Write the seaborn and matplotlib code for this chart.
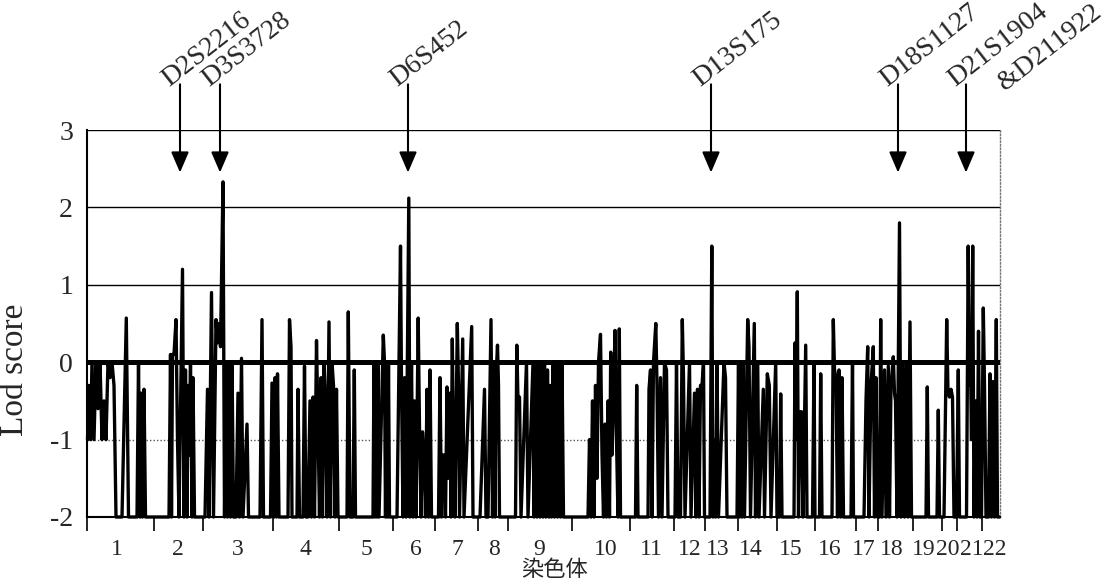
import matplotlib
matplotlib.use("Agg")
import matplotlib.pyplot as plt
import pandas as pd
import seaborn as sns

# ---------------- data ----------------
chrom_labels = [str(i) for i in range(1, 23)]
# chromosome boundaries on the genome map (arbitrary map units)
chrom_bounds = [87, 154, 203, 273, 339, 393, 435, 478, 508, 572, 630, 674,
                705, 738, 777, 815, 856, 878, 913, 942, 957, 982, 1000]
# where each chromosome label sits on the map
label_pos = [117, 178, 238, 305, 366, 416, 457, 494, 539, 606, 651, 690,
             718, 751, 791, 830, 864, 892, 924, 948, 972, 995]

marker_pos = (
    # chr1
    [87.5, 89, 90.5, 92, 94, 96, 98, 100, 102, 104, 106, 108, 110, 112, 114, 116,
     122, 126.3, 128.5, 137, 138.5, 140, 141, 142.5, 144, 145.5, 153]
    # chr2
    + [155, 169, 170.5, 171.5, 172.5, 174, 176, 177.5, 179, 182.5, 184, 185.5, 187,
       188, 189, 190.5, 192, 193, 194.5, 202]
    # chr3
    + [205, 207.5, 209, 211.5, 213.5, 216, 217.5, 219, 220.5, 223, 224.5, 226, 227.5,
       229, 230.5, 232, 233.5, 236, 238, 239.5, 241.5, 243, 247, 248.5, 260, 262,
       263.5, 270.5, 272]
    # chr4
    + [274, 275, 276.5, 277.5, 279, 288, 289.5, 291, 292, 297, 298, 299.5, 303, 304.5,
       306, 308, 310, 311.5, 313, 314.5, 316.5, 318, 319.5, 321, 322.5, 324, 325.5,
       327, 329, 330.5, 332, 333.5, 335, 336.5, 338]
    # chr5
    + [340, 347, 348.3, 350, 353, 354.3, 355.5, 373, 374, 375, 376, 377, 378, 379,
       383.3, 384.5, 385.5, 386.5, 387.5, 388.5, 389.5, 392]
    # chr6
    + [397, 400.5, 401.5, 403, 404.5, 406, 408.8, 410, 411.5, 413, 414.5, 416, 418.2,
       419.5, 421, 422.5, 424, 425.5, 427, 428.5, 430, 431.5, 434]
    # chr7
    + [436.5, 438.5, 440, 441.5, 442.5, 444, 445.5, 447, 448.5, 450, 451, 452.3, 453.5,
       455, 457.3, 458.5, 459.5, 462.7, 464, 471.7, 473, 477]
    # chr8
    + [480, 484.5, 486, 488, 491, 492.5, 494, 495, 496, 497.5, 498.5, 499.5, 507]
    # chr9
    + [510, 515.5, 516.8, 518, 519.5, 521, 526.5, 528, 533, 534, 535.5, 537, 538.5,
       540, 541.5, 543, 544.5, 546, 547.5, 549, 550, 551.5, 553, 554.5, 556, 557.5,
       559, 560.5, 562, 563.5, 571]
    # chr10
    + [574, 588, 589.5, 591, 592.5, 594, 595.5, 597, 598.5, 600.5, 602, 603.5, 605,
       606.5, 608, 609.5, 610.7, 612, 613.5, 615, 616.5, 618, 619.3, 620.5, 629]
    # chr11
    + [631, 635.5, 636.7, 638, 648, 649, 650.5, 652, 653.5, 655.8, 657, 658.5, 660.5,
       662, 664.5, 666.5, 668, 673]
    # chr12
    + [675, 676.5, 678, 680.5, 682.3, 683.5, 685, 689.5, 691, 694.5, 696, 697.5, 699,
       700.5, 702, 703.5, 704.5]
    # chr13
    + [706, 710, 711.8, 713, 714, 715.5, 717, 718.5, 724, 725.5, 727, 737]
    # chr14
    + [738.5, 739.5, 741, 742, 743, 744.5, 747.7, 749, 750.5, 754.3, 755.5, 757.7, 759,
       763.3, 764.5, 767.3, 769.3, 771, 775.7, 777]
    # chr15
    + [779.5, 780.7, 782, 794, 795, 796, 797.3, 798.5, 800, 801.5, 803, 805.7, 807,
       812.5, 814, 815]
    # chr16
    + [816, 819.5, 820.7, 822, 832, 833.3, 834.5, 836, 837.5, 839, 840.5, 842, 843.5,
       851, 852.5, 853.5, 856]
    # chr17
    + [858, 864, 866, 867.7, 869, 871, 873.3, 874.5, 876, 877.5]
    # chr18
    + [879.5, 880.7, 882, 884.5, 886, 888.3, 889.5, 891, 893.3, 894.5, 895.5, 897,
       899.5, 901, 903, 904.5, 906.5, 908, 910, 911.5]
    # chr19
    + [914, 926, 927.3, 928.5, 937, 938.3, 939.5, 941.5]
    # chr20
    + [944, 946.7, 948, 949.5, 951, 952.5, 954, 956.5]
    # chr21
    + [958.3, 959.5, 966.5, 968.2, 969.5, 970.5, 971.5, 972.7, 974, 975.5, 977, 978.5,
       980, 981.5]
    # chr22
    + [983.3, 984.5, 986, 988.5, 990, 991.5, 993, 994.5, 996.3, 997.5, 999.5]
)

lod_score = (
    # chr1
    [-1.0, -0.3, -1.0, 0, -1.0, 0, -0.6, 0, -1.0, -0.5, -1.0, 0, -0.2, 0, -0.3, -2,
     -2, 0.57, -2, -2, 0, -2, -0.4, -2, -0.35, -2, -2]
    # chr2
    + [-2, -2, 0.1, -2, 0.1, 0.1, 0.55, -1.0, -2, 1.2, -2, -0.1, -2,
       -0.3, -1.2, 0, -2, -0.2, -2, -2]
    # chr3
    + [-2, -0.35, -2, 0.9, -2, 0.55, 0.25, 0.5, 0.2, 2.33, -2, 0, -2,
       0, -2, 0, -2, -2, -0.4, -2, 0.05, -2, -0.8, -2, -2, 0.55,
       -2, -2, -0.27]
    # chr4
    + [-2, -0.2, -2, -0.15, -2, -2, 0.55, 0.2, -2, -2, -0.35, -2, -2, -0.05,
       -2, -2, -0.5, -2, -0.45, -2, 0.28, -0.8, -2, -0.2, -2, 0, -0.5,
       -2, 0.52, -2, 0, -0.3, -2, -0.35, -2]
    # chr5
    + [-2, -2, 0.65, -2, -2, -0.1, -2, -2, 0, -2, 0, -2, 0, -2,
       0.35, 0, -2, 0, -2, 0, -2, -2]
    # chr6
    + [-2, 1.5, -0.3, -2, -0.2, -2, 2.12, -2, 0, -2, -0.5, -2, 0.57,
       -0.85, -2, -0.9, -1.2, -2, -0.35, -2, -0.1, -2, -2]
    # chr7
    + [-2, -2, -0.2, -2, -1.2, -1.2, -2, -0.32, -1.5, -0.4, -2, 0.3, -1.0,
       -2, 0.5, -0.3, -2, 0.3, -2, 0.46, -2, -2]
    # chr8
    + [-2, -0.35, -2, -2, 0.55, -2, 0, -2, -0.2, 0.22, -0.3, -2, -2]
    # chr9
    + [-2, -2, 0.22, -0.5, -0.45, -2, 0, -2, 0, -2, 0, -2, 0,
       -2, 0, -2, 0, -2, -0.1, -2, -0.3, -2, 0, -2, 0, -2,
       0, -2, 0, -2, -2]
    # chr10
    + [-2, -2, -1.0, -2, -0.5, -2, -0.3, -1.5, 0, 0.36, -1.2, -2, -0.8,
       -2, -0.5, -2, 0.13, -1.2, -0.5, 0.41, -1.0, -2, 0.43, -2, -2]
    # chr11
    + [-2, -2, -0.3, -2, -2, -0.35, -0.1, -2, 0, 0.5, -0.3, -2, -0.2,
       -2, 0, -0.1, -2, -2]
    # chr12
    + [-2, 0, -2, -2, 0.55, -0.2, -2, 0, -2, -0.4, -2, -0.35, -2,
       -0.3, -0.3, 0, -2]
    # chr13
    + [-2, -2, 1.5, -2, -1.0, -2, 0, -2, 0, -0.2, -2, -2]
    # chr14
    + [0, -2, 0, -2, 0, -2, 0.55, 0.2, -2, 0.5, -2, 0, -2,
       -0.35, -2, -0.15, -0.3, -2, 0, -2]
    # chr15
    + [-2, -0.41, -2, -2, 0.25, -1.0, 0.91, -2, -0.64, -0.64, -2, 0.22, -2,
       -2, 0, -2]
    # chr16
    + [-2, -2, -0.15, -2, -2, 0.55, -0.1, -0.2, -2, -0.1, -2, -0.2, -2,
       -2, 0, -2, -2]
    # chr17
    + [-2, -2, -0.5, 0.2, -2, -0.3, 0.2, -2, -0.2, -2]
    # chr18
    + [-2, 0.55, -2, -0.1, -2, -0.05, -2, -0.3, 0.07, -0.4, -0.5, -2,
       1.8, -2, 0, -2, 0, -2, 0.52, -2]
    # chr19
    + [-2, -2, -0.32, -2, -2, -0.62, -2, -2]
    # chr20
    + [-2, 0.55, -0.4, -0.45, -0.35, -0.45, -2, -2]
    # chr21
    + [-0.1, -2, -2, 1.5, -0.3, 0, -1.0, 1.5, -2, -0.5, -2, 0.4,
       -2, -2]
    # chr22
    + [0.7, -0.3, -2, -2, -0.15, -2, -0.25, -2, 0.55, -2, -2]
)

# markers flagged with arrows
arrow_markers = ["D2S2216", "D3S3728", "D6S452", "D13S175", "D18S1127", "D21S1904"]
arrow_pos = [180, 220, 408, 711, 898, 966]
extra_marker = "&D211922"

yticks = [-2, -1, 0, 1, 2, 3]
ytick_labels = ["-2", "-1", "0", "1", "2", "3"]

# ---------------- plot ----------------
sns.set_theme(style="white")
plt.rcParams["font.family"] = ["Liberation Serif", "DejaVu Serif"]

W, H = 1112, 583
fig = plt.figure(figsize=(W / 100, H / 100), dpi=100)
ax = fig.add_axes([87 / W, 66 / H, 913 / W, 387 / H])

df = pd.DataFrame({"pos": marker_pos, "lod": lod_score})
sns.lineplot(data=df, x="pos", y="lod", ax=ax, color="black", lw=2.4,
             sort=False, estimator=None, clip_on=False, zorder=2)

ax.set_xlim(chrom_bounds[0], chrom_bounds[-1])
ax.set_ylim(-2, 3)

# horizontal reference lines
for yv in [1, 2, 3]:
    ax.axhline(yv, color="black", lw=1.0, zorder=1)
ax.axhline(-1, color="#555555", lw=1.0, ls=(0, (1, 1.5)), zorder=1)
ax.axhline(0, color="black", lw=3.6, zorder=3)

# spines
ax.spines["top"].set_visible(False)
ax.spines["right"].set_color("#777777")
ax.spines["right"].set_linestyle((0, (1, 1.5)))
ax.spines["right"].set_linewidth(1.0)
ax.spines["left"].set_color("black")
ax.spines["left"].set_linewidth(1.5)
ax.spines["bottom"].set_color("black")
ax.spines["bottom"].set_linewidth(1.5)

# y axis
ax.set_yticks(yticks)
ax.set_yticklabels(ytick_labels, fontsize=20)
ax.tick_params(axis="y", length=0, pad=10)
ax.set_ylabel("Lod score", fontsize=24)
ax.yaxis.set_label_coords(-0.062, 0.38)

# x axis: boundary ticks (major) + chromosome labels (minor)
ax.set_xticks(chrom_bounds[:-1])
ax.set_xticklabels([""] * (len(chrom_bounds) - 1))
ax.tick_params(axis="x", which="major", direction="out", length=10, width=1.2,
               color="black", bottom=True)
ax.set_xticks(label_pos, minor=True)
ax.set_xticklabels(chrom_labels, minor=True, fontsize=17)
ax.tick_params(axis="x", which="minor", length=0, pad=16, bottom=True)
ax.set_xlabel("")
ax.text(0.512, -0.152, "染色体", transform=ax.transAxes, ha="center", va="baseline",
        fontsize=16, family=["Noto Sans CJK SC", "DejaVu Sans"])

# arrows and marker names
for name, xp in zip(arrow_markers, arrow_pos):
    ax.annotate("", xy=(xp, 0.89), xytext=(xp, 1.118),
                xycoords=("data", "axes fraction"),
                textcoords=("data", "axes fraction"),
                arrowprops=dict(arrowstyle="-|>,head_length=0.42,head_width=0.18",
                                mutation_scale=30, lw=1.5, color="black",
                                shrinkA=0, shrinkB=0),
                annotation_clip=False)
    ax.annotate(name, xy=(xp, 1.118), xycoords=("data", "axes fraction"),
                xytext=(-8, -2), textcoords="offset points",
                rotation=38, rotation_mode="anchor", ha="left", va="baseline",
                fontsize=20, annotation_clip=False)
ax.annotate(extra_marker, xy=(arrow_pos[-1], 1.118), xycoords=("data", "axes fraction"),
            xytext=(28, -5), textcoords="offset points",
            rotation=38, rotation_mode="anchor", ha="left", va="baseline",
            fontsize=20, annotation_clip=False)

fig.savefig("out.png", dpi=100)
